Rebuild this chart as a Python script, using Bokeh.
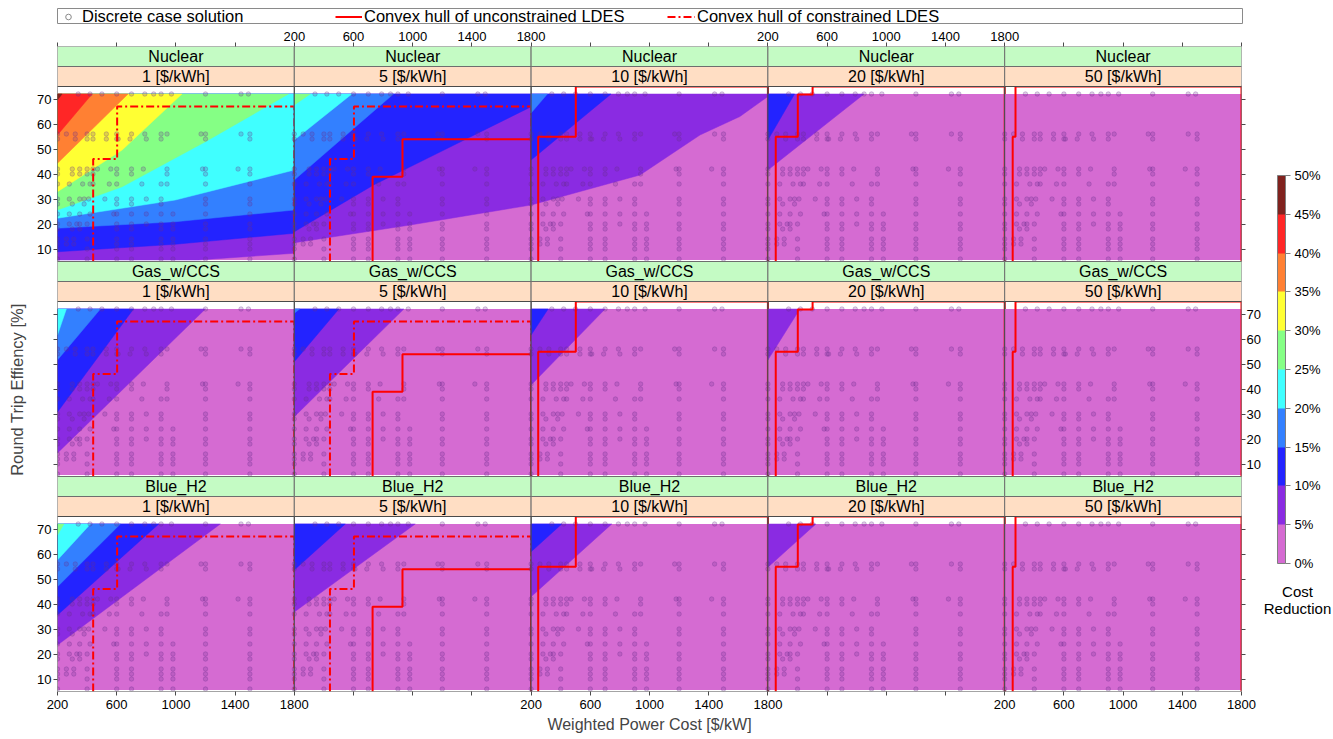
import numpy as np
from bokeh.plotting import figure
from bokeh.models import (Range1d, LinearAxis, FixedTicker, ColorBar, LinearColorMapper,
                          Legend, LegendItem, Label, PrintfTickFormatter)
from bokeh.layouts import column, row
from bokeh.embed import file_html
from bokeh.resources import INLINE
from bokeh.core.properties import value

# ---------------------------------------------------------------- data
TECHS = ["Nuclear", "Gas_w/CCS", "Blue_H2"]
ENERGY_COSTS = [1, 5, 10, 20, 50]
LEVELS = [0, 5, 10, 15, 20, 25, 30, 35, 40, 45, 50]
PALETTE = ["#D56BD2", "#8A2BE2", "#2323FF", "#3380FF", "#40FFFF",
           "#85FF85", "#FFFF33", "#FF8033", "#FF2626", "#80221E"]
X_TICKS = [200, 600, 1000, 1400, 1800]
Y_TICKS = [10, 20, 30, 40, 50, 60, 70]
X_LIM = (200, 1800)
Y_LIM = (5, 75)
FILL_Y = (5.6, 72)

# contour lines of cost reduction (level -> (power cost, efficiency)) per panel
NUCLEAR_1 = {
    45: ([200, 231], [69.6, 72]),
    40: ([200, 434], [55.6, 72]),
    35: ([200, 677], [44.3, 72]),
    30: ([200, 637, 1041], [32.9, 49.6, 72]),
    25: ([200, 637, 1199, 1761], [25.6, 34.9, 52.9, 72]),
    20: ([200, 996, 1800], [22.3, 29.6, 41.6]),
    15: ([200, 996, 1800], [18.3, 20.9, 25.6]),
    10: ([200, 996, 1800], [8.9, 11.9, 16.3]),
    5: ([1153, 1800], [5.6, 8.3]),
}
NUCLEAR_5 = {
    25: ([200, 308], [67.6, 72]),
    20: ([200, 589], [53.6, 72]),
    15: ([200, 870], [37.6, 72]),
    10: ([200, 735, 1800], [16.9, 35.6, 66.9]),
    5: ([200, 983, 1800], [12.5, 19.6, 27.6]),
}
NUCLEAR_10 = {
    15: ([200, 310], [64.4, 72]),
    10: ([200, 740], [45.6, 72]),
    5: ([200, 936, 1341, 1611, 1800], [27.6, 39.6, 55.6, 63.0, 71.0]),
}
NUCLEAR_20 = {
    10: ([200, 380], [53.6, 72]),
    5: ([200, 850], [41.6, 72]),
}
NUCLEAR_50 = {}
GAS_1 = {
    20: ([200, 260], [61.6, 72]),
    15: ([200, 490], [51.6, 72]),
    10: ([200, 713], [30.8, 72]),
    5: ([200, 1199], [14.4, 72]),
}
GAS_5 = {
    15: ([200, 236], [70.3, 72]),
    10: ([200, 501], [50.9, 72]),
    5: ([200, 940], [28.9, 72]),
}
GAS_10 = {
    10: ([200, 315], [61.6, 72]),
    5: ([200, 700], [41.6, 72]),
}
GAS_20 = {5: ([200, 416], [51.6, 72])}
GAS_50 = {}
BLUE_1 = {
    25: ([200, 243], [67.6, 72]),
    20: ([200, 423], [57.6, 72]),
    15: ([200, 625], [46.9, 72]),
    10: ([200, 884], [35.6, 72]),
    5: ([200, 1300], [23.6, 72]),
}
BLUE_5 = {
    10: ([200, 544], [53.6, 72]),
    5: ([200, 1017], [36.8, 72]),
}
BLUE_10 = {
    10: ([200, 407], [60.9, 72]),
    5: ([200, 745], [42.9, 72]),
}
BLUE_20 = {5: ([200, 524], [54.7, 72])}
BLUE_50 = {}

PANEL_CONTOURS = [
    [NUCLEAR_1, NUCLEAR_5, NUCLEAR_10, NUCLEAR_20, NUCLEAR_50],
    [GAS_1, GAS_5, GAS_10, GAS_20, GAS_50],
    [BLUE_1, BLUE_5, BLUE_10, BLUE_20, BLUE_50],
]

# convex hulls (step lines), per energy-cost column
UNCON_X = [None,
           [729, 729, 931, 931, 1800, 1800],
           [248, 248, 502, 502, 1800, 1800],
           [253, 253, 402, 402, 502, 502, 1800, 1800],
           [254, 254, 273, 273, 1800, 1800]]
UNCON_Y = [None,
           [5, 38.9, 38.9, 53.9, 53.9, 5],
           [5, 54.9, 54.9, 75, 75, 5],
           [5, 54.9, 54.9, 71.8, 71.8, 75, 75, 5],
           [5, 54.9, 54.9, 75, 75, 5]]
CON_X = [[441, 441, 603, 603, 1800, 1800],
         [441, 441, 603, 603, 1800, 1800], None, None, None]
CON_Y = [[5, 46, 46, 67, 67, 5],
         [5, 46, 46, 67, 67, 5], None, None, None]

# discrete case solutions (efficiency level -> weighted power costs)
DOT_Y = [72, 56, 54, 42, 40, 36, 30, 28, 24, 20, 18, 14, 12, 10, 6]
DOT_X = [
    [340, 420, 500, 600, 700, 790, 850, 900, 970, 1200, 1440, 1490],
    [200, 260, 320, 400, 440, 530, 600, 700, 790, 900, 940, 1170, 1200, 1440, 1500],
    [200, 320, 400, 440, 530, 600, 610, 690, 800, 900, 1200, 1500],
    [200, 300, 350, 400, 440, 470, 560, 600, 700, 780, 940, 1180, 1200, 1420, 1500],
    [200, 300, 350, 400, 440, 600, 700, 940, 1200, 1500],
    [200, 280, 370, 420, 440, 550, 600, 770, 900, 940, 1200, 1500],
    [200, 280, 350, 380, 410, 520, 600, 700, 800, 900, 1200, 1500],
    [200, 300, 380, 600, 700, 900, 1200, 1500],
    [200, 280, 350, 420, 580, 600, 700, 800, 900, 980, 1200, 1500],
    [200, 280, 330, 350, 400, 600, 700, 800, 900, 980, 1200, 1500],
    [200, 300, 350, 600, 700, 900, 980, 1200, 1500],
    [200, 260, 310, 400, 600, 700, 900, 980, 1200, 1500],
    [200, 260, 310, 600, 700, 900, 980, 1200, 1500],
    [200, 400, 600, 700, 900, 980, 1200, 1500],
    [200, 400, 600, 700, 900, 980, 1200, 1500],
]

# ---------------------------------------------------------------- helpers
FONT = "Liberation Sans"
NCOL, NROW = 5, 3
COLW = X_LIM[1] - X_LIM[0]          # 1600 data units per column
STRIP = 8                            # strip height in efficiency units
ROWH = (Y_LIM[1] - Y_LIM[0]) + 2 * STRIP   # 86 units per row block


def clip_polygon(pts, x0, x1, y0, y1):
    def clip(poly, inside, inter):
        out = []
        for i in range(len(poly)):
            cur, prev = poly[i], poly[i - 1]
            if inside(cur):
                if not inside(prev):
                    out.append(inter(prev, cur))
                out.append(cur)
            elif inside(prev):
                out.append(inter(prev, cur))
        return out

    def at_x(xv):
        def f(p, q):
            t = (xv - p[0]) / (q[0] - p[0])
            return (xv, p[1] + t * (q[1] - p[1]))
        return f

    def at_y(yv):
        def f(p, q):
            t = (yv - p[1]) / (q[1] - p[1])
            return (p[0] + t * (q[0] - p[0]), yv)
        return f

    for inside, inter in [(lambda p: p[0] >= x0, at_x(x0)), (lambda p: p[0] <= x1, at_x(x1)),
                          (lambda p: p[1] >= y0, at_y(y0)), (lambda p: p[1] <= y1, at_y(y1))]:
        if not pts:
            break
        pts = clip(pts, inside, inter)
    return pts


# ---------------------------------------------------------------- main figure
p = figure(width=1263, height=714,
           x_range=Range1d(0, NCOL * COLW), y_range=Range1d(0, NROW * ROWH),
           x_axis_location=None, y_axis_location=None,
           min_border_left=57, min_border_right=20, min_border_top=22, min_border_bottom=47,
           toolbar_location=None, output_backend="svg", outline_line_color=None,
           background_fill_color="white", border_fill_color="white")
p.grid.visible = False

for c in range(NCOL):
    p.extra_x_ranges[f"x{c}"] = Range1d(X_LIM[0] - c * COLW, X_LIM[0] + (NCOL - c) * COLW)
for r in range(NROW):
    start = Y_LIM[0] - (NROW - 1 - r) * ROWH
    p.extra_y_ranges[f"y{r}"] = Range1d(start, start + NROW * ROWH)

dot_x = [x for xs, y in zip(DOT_X, DOT_Y) for x in xs]
dot_y = [y for xs, y in zip(DOT_X, DOT_Y) for x in xs]

for r, tech in enumerate(TECHS):
    for c, cost in enumerate(ENERGY_COSTS):
        kw = dict(x_range_name=f"x{c}", y_range_name=f"y{r}")
        # background band (0-5 %)
        p.quad(left=[X_LIM[0]], right=[X_LIM[1]], bottom=[FILL_Y[0]], top=[FILL_Y[1]],
               fill_color=PALETTE[0], line_color=None, **kw)
        xs_all, ys_all, cols = [], [], []
        for lev in sorted(PANEL_CONTOURS[r][c]):
            cx, cy = PANEL_CONTOURS[r][c][lev]
            poly = list(zip(cx, cy)) + [(cx[-1], 200), (0, 200), (0, cy[0])]
            poly = clip_polygon(poly, X_LIM[0], X_LIM[1], FILL_Y[0], FILL_Y[1])
            if len(poly) >= 3:
                xs_all.append([q[0] for q in poly])
                ys_all.append([q[1] for q in poly])
                cols.append(PALETTE[LEVELS.index(lev)])
        if xs_all:
            p.patches(xs=xs_all, ys=ys_all, fill_color=cols, line_color=cols,
                      line_width=0.5, **kw)
        # discrete case solutions
        p.scatter(x=dot_x, y=dot_y, marker="circle", size=4.5,
                  fill_color="#6b2f8f", fill_alpha=0.22,
                  line_color="#6b2f8f", line_alpha=0.35, line_width=0.8, **kw)
        # hulls
        if CON_X[c] is not None:
            p.line(x=CON_X[c], y=CON_Y[c], line_color="#FF0000", line_width=2,
                   line_dash="8 3 2 3", **kw)
        if UNCON_X[c] is not None:
            p.line(x=UNCON_X[c], y=UNCON_Y[c], line_color="#FF0000", line_width=2, **kw)
        # strips
        top = Y_LIM[1]
        p.quad(left=[X_LIM[0], X_LIM[0]], right=[X_LIM[1], X_LIM[1]],
               bottom=[top, top + STRIP], top=[top + STRIP, top + 2 * STRIP],
               fill_color=["#FFDEC4", "#C4FBC4"], line_color="#6e6e6e", line_width=1, **kw)
        p.text(x=[(X_LIM[0] + X_LIM[1]) / 2] * 2, y=[top + STRIP / 2, top + 1.5 * STRIP],
               text=[f"{cost} [$/kWh]", tech], text_align="center", text_baseline="middle",
               text_font=value(FONT), text_font_size="16px", text_color="black", **kw)
        # panel border
        p.quad(left=[X_LIM[0]], right=[X_LIM[1]], bottom=[Y_LIM[0]], top=[Y_LIM[1]],
               fill_color=None, line_color="#4a4a4a", line_width=1, **kw)


def make_axis(overrides):
    return LinearAxis(ticker=FixedTicker(ticks=sorted(overrides)),
                      major_label_overrides=overrides,
                      axis_line_color=None, major_tick_in=0, major_tick_out=4,
                      major_tick_line_color="#4a4a4a", minor_tick_line_color=None,
                      major_label_text_font=FONT, major_label_text_font_size="13px",
                      major_label_text_color="black", major_label_standoff=2)


def x_overrides(labelled):
    ov = {}
    for c in range(NCOL):
        for v in X_TICKS:
            g = c * COLW + (v - X_LIM[0])
            ov.setdefault(g, "")
            if c in labelled:
                ov[g] = str(v)
    return ov


def y_overrides(labelled):
    ov = {}
    for r in range(NROW):
        for v in Y_TICKS:
            g = (NROW - 1 - r) * ROWH + (v - Y_LIM[0])
            ov.setdefault(g, "")
            if r in labelled:
                ov[g] = str(v)
    return ov


ax_b = make_axis(x_overrides({0, 2, 4}))
ax_b.axis_label = "Weighted Power Cost [$/kW]"
ax_b.axis_label_text_font = FONT
ax_b.axis_label_text_font_size = "16px"
ax_b.axis_label_text_font_style = "normal"
ax_b.axis_label_standoff = 4
ax_b.major_label_standoff = 4
p.add_layout(ax_b, "below")

ax_t = make_axis(x_overrides({1, 3}))
p.add_layout(ax_t, "above")

ax_l = make_axis(y_overrides({0, 2}))
ax_l.axis_label = "Round Trip Effiency [%]" + "\u00a0" * 9
ax_l.axis_label_text_font = FONT
ax_l.axis_label_text_font_size = "16.5px"
ax_l.axis_label_text_font_style = "normal"
ax_l.axis_label_standoff = 8
p.add_layout(ax_l, "left")

ax_r = make_axis(y_overrides({1}))
ax_r.major_label_standoff = 1
p.add_layout(ax_r, "right")

# ---------------------------------------------------------------- colour bar
cbf = figure(width=68, height=714, x_range=Range1d(0, 1), y_range=Range1d(0, 1),
             x_axis_location=None, y_axis_location=None, min_border_left=0,
             min_border_right=0, min_border_top=0, min_border_bottom=0,
             toolbar_location=None, output_backend="svg", outline_line_color=None)
cbf.grid.visible = False
mapper = LinearColorMapper(palette=PALETTE, low=LEVELS[0], high=LEVELS[-1])
cb = ColorBar(color_mapper=mapper, ticker=FixedTicker(ticks=LEVELS),
              formatter=PrintfTickFormatter(format="%d%%"),
              width=8, height=388, padding=0, margin=0, location=(14, 128),
              major_tick_in=0, major_tick_out=5, major_tick_line_color="#7f7f7f",
              bar_line_color="#7f7f7f", label_standoff=4,
              major_label_text_font=FONT, major_label_text_font_size="13px",
              major_label_text_color="black", border_line_color=None,
              background_fill_color=None)
cbf.add_layout(cb, "center")
cbf.add_layout(Label(x=34, y=92, x_units="screen", y_units="screen",
                     text="Cost\nReduction", text_align="center", text_baseline="middle",
                     text_font=FONT, text_font_size="15px", text_color="black",
                     text_line_height=1.0))

# ---------------------------------------------------------------- legend strip
lf = figure(width=1243, height=24, x_range=Range1d(0, 1), y_range=Range1d(0, 1),
            x_axis_location=None, y_axis_location=None, min_border_left=57,
            min_border_right=0, min_border_top=8, min_border_bottom=0,
            toolbar_location=None, output_backend="svg", outline_line_color="#8a8a8a")
lf.grid.visible = False
r_dot = lf.scatter(x=[-5], y=[-5], marker="circle", size=4.5, fill_color=None,
                   line_color="#8a8a8a", line_width=1)
r_unc = lf.line(x=[-5, -4], y=[-5, -5], line_color="#FF0000", line_width=2)
r_con = lf.line(x=[-5, -4], y=[-5, -5], line_color="#FF0000", line_width=2,
                line_dash="8 3 2 3")

for rend, lab, xoff, gw, so in [(r_dot, "Discrete case solution", 3, 16, 6),
                                (r_unc, "Convex hull of unconstrained LDES", 278, 27, 2),
                                (r_con, "Convex hull of constrained LDES", 610, 28, 2)]:
    lg = Legend(items=[LegendItem(label=lab, renderers=[rend])], location="left",
                orientation="horizontal", glyph_width=gw, glyph_height=14,
                label_height=14, label_standoff=so, padding=0, margin=xoff, spacing=0,
                border_line_color=None, background_fill_alpha=0,
                label_text_font=FONT, label_text_font_size="16.5px",
                label_text_color="black")
    lf.add_layout(lg, "center")

layout = column(lf, row(p, cbf))
open("out.html", "w").write(file_html(layout, INLINE))
